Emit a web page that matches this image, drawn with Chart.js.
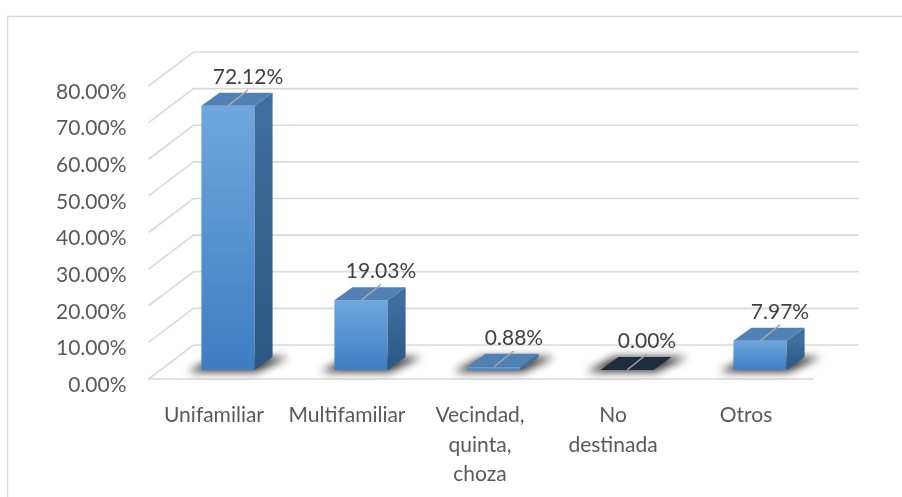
<!DOCTYPE html>
<html>
<head>
<meta charset="utf-8">
<script src="https://cdn.jsdelivr.net/npm/chart.js@4.4.1/dist/chart.umd.min.js"></script>
<style>
  html, body { margin: 0; padding: 0; background: #fff; }
  #wrap { width: 902px; height: 497px; }
</style>
</head>
<body>
<div id="wrap"><canvas id="tipoChart" width="902" height="497"></canvas></div>
<script>
// Data
const categories = ['Unifamiliar', 'Multifamiliar', ['Vecindad,', 'quinta,', 'choza'], ['No', 'destinada'], 'Otros'];
const percentages = [72.12, 19.03, 0.88, 0.00, 7.97];
const yTicks = [0, 10, 20, 30, 40, 50, 60, 70, 80];

// 3D look (offsets from the bar front plane)
const BACK = { x: 32, y: -25 };
const FRONT = { x: -13, y: 9 };
const BAR_DEPTH = { x: 18, y: -13 };
const FONT = 'Lato, "Open Sans", sans-serif';

function poly(ctx, pts, fill) {
  ctx.beginPath();
  ctx.moveTo(pts[0][0], pts[0][1]);
  for (let i = 1; i < pts.length; i++) ctx.lineTo(pts[i][0], pts[i][1]);
  ctx.closePath();
  ctx.fillStyle = fill;
  ctx.fill();
}

const threeD = {
  id: 'threeD',
  beforeDraw(chart) {
    const ctx = chart.ctx;
    ctx.save();
    ctx.strokeStyle = '#d9d9d9';
    ctx.lineWidth = 1.5;
    ctx.strokeRect(7.5, 16.5, 1000, 1000);
    ctx.restore();
  },
  beforeDatasetsDraw(chart) {
    const ctx = chart.ctx;
    const { left, right } = chart.chartArea;
    const y = chart.scales.y;
    ctx.save();
    ctx.strokeStyle = '#d9d9d9';
    ctx.lineWidth = 1.6;
    yTicks.forEach(v => {
      const py = y.getPixelForValue(v);
      ctx.beginPath();
      ctx.moveTo(left + FRONT.x, py + FRONT.y);
      ctx.lineTo(left + BACK.x, py + BACK.y);
      ctx.lineTo(right + BACK.x, py + BACK.y);
      ctx.stroke();
    });
    // front edge of the floor
    const base = y.getPixelForValue(0);
    ctx.beginPath();
    ctx.moveTo(left + FRONT.x, base + FRONT.y);
    ctx.lineTo(right + FRONT.x, base + FRONT.y);
    ctx.stroke();

    // bar shadows on the floor
    const meta = chart.getDatasetMeta(0);
    ctx.filter = 'blur(4px)';
    meta.data.forEach(bar => {
      const l = bar.x - bar.width / 2, r = bar.x + bar.width / 2, b = bar.base;
      poly(ctx, [
        [l - 14, b + 2], [r + 2, b + 2],
        [r + BAR_DEPTH.x + 16, b + BAR_DEPTH.y], [l + BAR_DEPTH.x - 4, b + BAR_DEPTH.y]
      ], 'rgba(20, 20, 20, 0.85)');
    });
    ctx.restore();
  },
  afterDatasetsDraw(chart) {
    const ctx = chart.ctx;
    const meta = chart.getDatasetMeta(0);
    ctx.save();
    meta.data.forEach((bar, i) => {
      const l = bar.x - bar.width / 2, r = bar.x + bar.width / 2;
      const t = bar.y, b = bar.base;
      // side face
      const sg = ctx.createLinearGradient(0, t, 0, Math.max(b, t + 1));
      sg.addColorStop(0, '#3f6f9f');
      sg.addColorStop(1, '#2b5784');
      poly(ctx, [[r, t], [r + BAR_DEPTH.x, t + BAR_DEPTH.y], [r + BAR_DEPTH.x, b + BAR_DEPTH.y], [r, b]], sg);
      // top face
      poly(ctx, [[l, t], [r, t], [r + BAR_DEPTH.x, t + BAR_DEPTH.y], [l + BAR_DEPTH.x, t + BAR_DEPTH.y]],
        percentages[i] === 0 ? '#1f2c3d' : '#5080b4');

      // data label with leader line
      const lx = bar.x + 20, ly = t - 29;
      ctx.strokeStyle = '#a6a6a6';
      ctx.lineWidth = 1.5;
      ctx.beginPath();
      ctx.moveTo(bar.x, t);
      ctx.lineTo(lx, ly + 13);
      ctx.stroke();
      ctx.fillStyle = '#404040';
      ctx.font = '21px ' + FONT;
      ctx.textAlign = 'center';
      ctx.textBaseline = 'middle';
      ctx.fillText(percentages[i].toFixed(2) + '%', lx, ly);
    });
    ctx.restore();
  }
};

const ctx = document.getElementById('tipoChart').getContext('2d');
new Chart(ctx, {
  type: 'bar',
  data: {
    labels: categories,
    datasets: [{
      data: percentages,
      borderWidth: 0,
      barPercentage: 0.4,
      categoryPercentage: 1,
      backgroundColor: (c) => {
        const ys = c.chart.scales && c.chart.scales.y;
        if (!ys || c.raw === undefined) return '#5b9bd5';
        const top = ys.getPixelForValue(c.raw), base = ys.getPixelForValue(0);
        if (!isFinite(top) || !isFinite(base)) return '#5b9bd5';
        const g = c.chart.ctx.createLinearGradient(0, top, 0, Math.max(base, top + 1));
        g.addColorStop(0, '#6fa7de');
        g.addColorStop(1, '#3e7dc3');
        return g;
      }
    }]
  },
  options: {
    responsive: false,
    animation: false,
    layout: { padding: { left: 0, right: 75.5, top: 77, bottom: 0 } },
    plugins: {
      legend: { display: false },
      tooltip: { enabled: false }
    },
    scales: {
      x: {
        grid: { display: false, drawTicks: false },
        border: { display: false },
        ticks: {
          color: '#595959',
          font: { family: FONT, size: 21, lineHeight: 1.4 },
          padding: 31,
          labelOffset: -14,
          maxRotation: 0,
          autoSkip: false
        },
        afterFit: s => { s.height = 127; }
      },
      y: {
        min: 0,
        max: 80,
        grid: { display: false, drawTicks: false },
        border: { display: false },
        afterBuildTicks: s => { s.ticks = yTicks.map(v => ({ value: v })); },
        ticks: {
          color: '#595959',
          font: { family: FONT, size: 21 },
          padding: 35,
          labelOffset: 15,
          callback: v => v.toFixed(2) + '%'
        },
        afterFit: s => { s.width = 161.5; }
      }
    }
  },
  plugins: [threeD]
});
</script>
</body>
</html>
